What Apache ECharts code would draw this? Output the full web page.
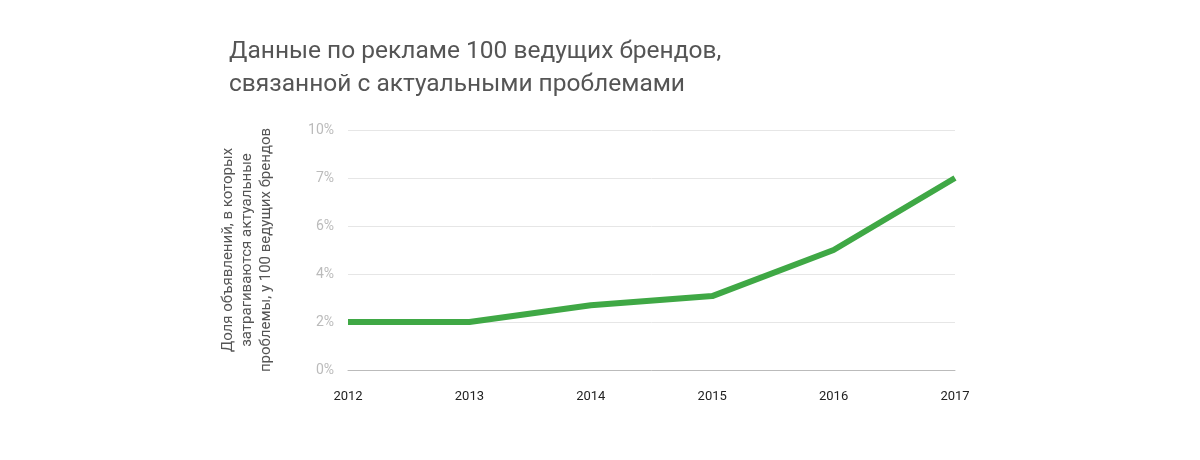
<!DOCTYPE html>
<html>
<head>
<meta charset="utf-8">
<script src="https://cdn.jsdelivr.net/npm/echarts@6/dist/echarts.min.js"></script>
<style>html,body{margin:0;padding:0;background:#fff}#chart{width:1200px;height:460px}</style>
</head>
<body>
<div id="chart"></div>
<script>
var years = ['2012', '2013', '2014', '2015', '2016', '2017'];
// tick labels as printed on the reference (evenly spaced gridlines)
var tickLabels = ['0%', '2%', '4%', '6%', '7%', '10%'];
// values expressed in gridline steps (0 = first tick, 5 = last tick)
var shareValues = [1, 1, 1.35, 1.54, 2.5, 4];

var chart = echarts.init(document.getElementById('chart'));
chart.setOption({
    title: {
        text: 'Данные по рекламе 100 ведущих брендов,\nсвязанной с актуальными проблемами',
        left: 224,
        top: 30,
        textStyle: { fontFamily: 'Roboto', fontSize: 24.5, fontWeight: 'normal', color: '#555', lineHeight: 33 }
    },
    grid: { left: 348, right: 245, top: 130, bottom: 90 },
    xAxis: {
        type: 'category',
        data: years,
        boundaryGap: false,
        axisLine: { lineStyle: { color: '#bbb' } },
        axisTick: { show: false },
        axisLabel: { color: '#222', fontFamily: 'Roboto', fontSize: 13, margin: 20 }
    },
    yAxis: {
        type: 'value',
        min: 0,
        max: 5,
        interval: 1,
        name: 'Доля объявлений, в которых\nзатрагиваются актуальные\nпроблемы, у 100 ведущих брендов',
        nameLocation: 'middle',
        nameGap: 72,
        nameTextStyle: { color: '#555', fontFamily: 'Roboto', fontSize: 15, lineHeight: 19 },
        axisLine: { show: false },
        axisTick: { show: false },
        splitLine: { lineStyle: { color: '#e6e6e6' } },
        axisLabel: {
            color: '#bbb', fontFamily: 'Roboto', fontSize: 14, margin: 14,
            formatter: function (v) { return tickLabels[Math.round(v)]; }
        }
    },
    series: [{
        type: 'line',
        data: shareValues,
        symbol: 'none',
        lineStyle: { color: '#3fa845', width: 6 }
    }]
});
</script>
</body>
</html>
